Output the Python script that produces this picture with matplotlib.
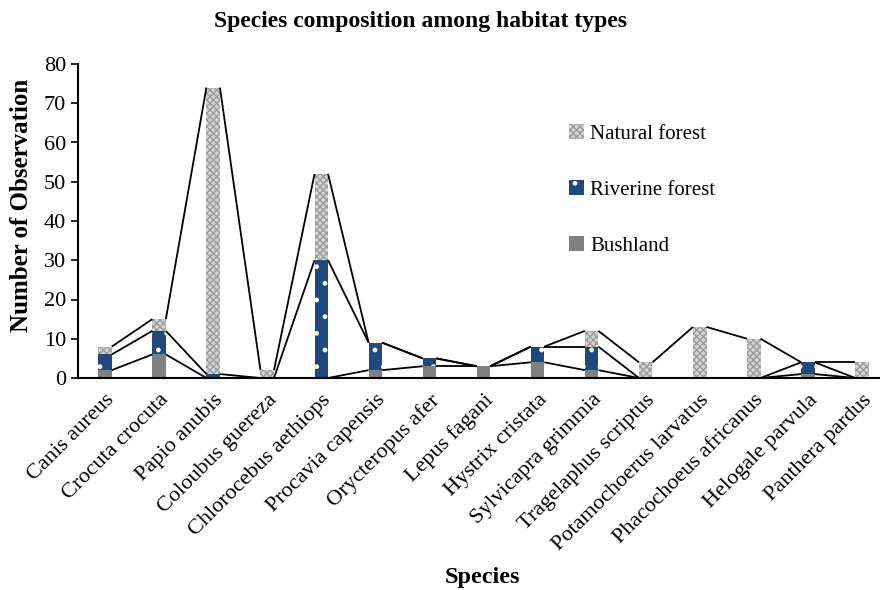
import numpy as np
import matplotlib
matplotlib.use("Agg")
import matplotlib.pyplot as plt
import matplotlib.patches as mpatches

plt.rcParams['font.family'] = ['Liberation Serif', 'DejaVu Serif']
plt.rcParams['hatch.linewidth'] = 1.0

# données
species = ["Canis aureus", "Crocuta crocuta", "Papio anubis", "Coloubus guereza",
           "Chlorocebus aethiops", "Procavia capensis", "Orycteropus afer",
           "Lepus fagani", "Hystrix cristata", "Sylvicapra grimmia",
           "Tragelaphus scriptus", "Potamochoerus larvatus",
           "Phacochoeus africanus", "Helogale parvula", "Panthera pardus"]
bushland = [2, 6, 0, 0, 0, 2, 3, 3, 4, 2, 0, 0, 0, 1, 0]
riverine = [4, 6, 1, 0, 30, 7, 2, 0, 4, 6, 0, 0, 0, 3, 0]
natural = [2, 3, 73, 2, 22, 0, 0, 0, 0, 4, 4, 13, 10, 0, 4]

c_bush = '#808080'
c_riv = '#1f497d'
c_nat = '#d4d4d4'

fig = plt.figure(figsize=(8.8, 5.9), dpi=100)
ax = fig.add_axes([78 / 880, 1 - 378 / 590, (889 - 78) / 880, (378 - 64) / 590])

x = np.arange(len(species))
w = 0.25
b = np.array(bushland)
r = np.array(riverine)
n = np.array(natural)

ax.bar(x, b, w, color=c_bush, linewidth=0, zorder=2)
ax.bar(x, r, w, bottom=b, color=c_riv, edgecolor='white', hatch='.', linewidth=0, zorder=2)
ax.bar(x, n, w, bottom=b + r, color=c_nat, edgecolor='#9c9c9c', hatch='xxxxx', linewidth=0, zorder=2)

# lignes de séries (style Excel)
for top in [b, b + r, b + r + n]:
    for i in range(len(x) - 1):
        ax.plot([x[i] + w / 2, x[i + 1] - w / 2], [top[i], top[i + 1]],
                color='black', linewidth=1.3, zorder=3, solid_capstyle='butt')

ax.set_xlim(-0.5, len(species) - 0.5)
ax.set_ylim(0, 80)
ax.set_yticks(range(0, 81, 10))
ax.set_xticks(x)
ax.set_xticklabels(species, rotation=45, ha='right', va='top', rotation_mode='anchor', fontsize=16)
ax.tick_params(axis='y', labelsize=16, length=5, width=1.2, direction='out')
ax.tick_params(axis='x', length=0, pad=9)
for s in ['top', 'right']:
    ax.spines[s].set_visible(False)
for s in ['left', 'bottom']:
    ax.spines[s].set_linewidth(1.5)

fig.text(22 / 880, 1 - 205 / 590, 'Number of Observation', rotation=90, ha='center', va='center',
         fontsize=18, fontweight='bold')
fig.text(482 / 880, 1 - 577 / 590, 'Species', ha='center', va='center', fontsize=17.5, fontweight='bold')
fig.text(420 / 880, 1 - 22 / 590, 'Species composition among habitat types',
         ha='center', va='center', fontsize=17, fontweight='bold')

h1 = mpatches.Patch(facecolor=c_nat, edgecolor='#9c9c9c', hatch='xxxxx', linewidth=0, label='Natural forest')
h2 = mpatches.Patch(facecolor=c_riv, edgecolor='white', hatch='.', linewidth=0, label='Riverine forest')
h3 = mpatches.Patch(facecolor=c_bush, linewidth=0, label='Bushland')
fig.legend(handles=[h1, h2, h3], loc='upper left', bbox_to_anchor=(561 / 880, 1 - 116 / 590),
           frameon=False, fontsize=15, handlelength=0.7, handleheight=0.7,
           handletextpad=0.3, labelspacing=1.75, borderaxespad=0)

fig.savefig('out.png', dpi=100)
